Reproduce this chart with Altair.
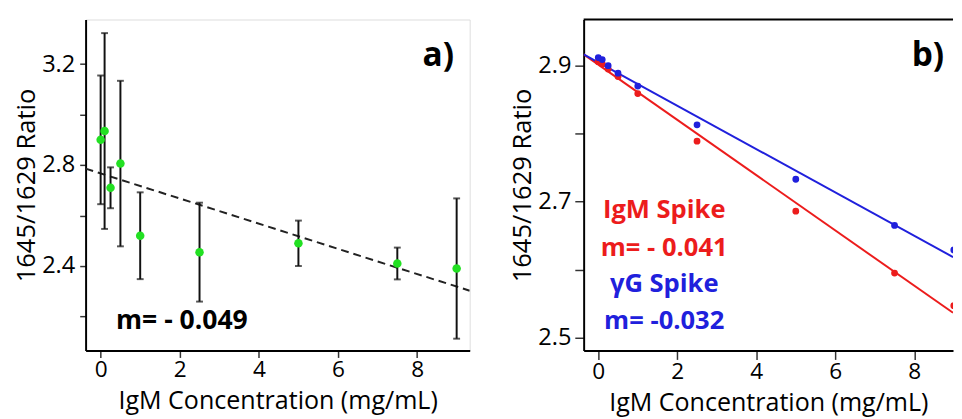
import json
import altair as alt
import pandas as pd

# ---- data ----
conc = [0, 0.1, 0.25, 0.5, 1, 2.5, 5, 7.5, 9]

# panel a) : mean ratio and error (+/-)
ratio_a = [2.90, 2.935, 2.71, 2.806, 2.52, 2.455, 2.49, 2.41, 2.39]
err_a = [0.255, 0.388, 0.081, 0.328, 0.172, 0.196, 0.09, 0.063, 0.278]

# panel b) : two spike series
ratio_igm = [2.906, 2.903, 2.895, 2.884, 2.859, 2.789, 2.686, 2.595, 2.547]
ratio_igg = [2.912, 2.909, 2.900, 2.889, 2.870, 2.813, 2.733, 2.665, 2.629]

series_names = ["IgM Spike", "γG Spike"]

x_ticks = [0, 2, 4, 6, 8]
y_ticks_a = [2.2, 2.4, 2.6, 2.8, 3.0, 3.2]
y_labels_a = ["2.4", "2.8", "3.2"]
y_ticks_b = [2.5, 2.6, 2.7, 2.8, 2.9]
y_labels_b = ["2.5", "2.7", "2.9"]

x_domain_a = [-0.38, 9.33]
y_domain_a = [2.065, 3.377]
x_domain_b = [-0.37, 8.98]
y_domain_b = [2.481, 2.968]

label_a = "a)"
label_b = "b)"
slope_text_a = "m= - 0.049"
slope_texts_b = ["m= - 0.041", "m= -0.032"]

# ---- styling ----
FONT = "Open Sans"
GREEN = "#22e022"
RED = "#ec1c1c"
BLUE = "#2020dc"
W_A, W_B, H = 391, 376, 337

df_a = pd.DataFrame({"x": conc, "y": ratio_a, "e": err_a})
df_b = pd.concat([
    pd.DataFrame({"x": conc, "y": ratio_igm, "s": series_names[0]}),
    pd.DataFrame({"x": conc, "y": ratio_igg, "s": series_names[1]}),
], ignore_index=True)


def label_expr(labels):
    return (f"indexof({json.dumps(labels)}, format(datum.value, '.1f')) >= 0 "
            f"? format(datum.value, '.1f') : ''")


def x_axis(tick_size):
    return alt.Axis(values=x_ticks, title="IgM Concentration (mg/mL)", grid=False,
                    tickSize=tick_size, tickColor="#333", tickWidth=1.5,
                    domain=True, domainColor="black", domainWidth=2,
                    labelFont=FONT, titleFont=FONT,
                    labelFontSize=23, titleFontSize=25.5, labelPadding=1,
                    titlePadding=8, labelFlush=False,
                    labelFontWeight=400, titleFontWeight=400)


def y_axis(ticks, labels, tick_size, pad):
    return alt.Axis(values=ticks, labelExpr=label_expr(labels), title="1645/1629 Ratio",
                    grid=False, tickSize=tick_size, tickColor="#333", tickWidth=1.5,
                    domain=True, domainColor="black", domainWidth=2,
                    labelFont=FONT, titleFont=FONT,
                    labelFontSize=24, titleFontSize=26, labelPadding=pad,
                    titlePadding=2, labelFlush=False,
                    labelFontWeight=400, titleFontWeight=400)


# ---------------- panel a ----------------
xa = alt.X("x:Q", scale=alt.Scale(domain=x_domain_a, nice=False, zero=False), axis=x_axis(7))
ya = alt.Y("y:Q", scale=alt.Scale(domain=y_domain_a, nice=False, zero=False),
           axis=y_axis(y_ticks_a, y_labels_a, 6, 5))

base_a = alt.Chart(df_a).transform_calculate(
    lo="datum.y - datum.e", hi="datum.y + datum.e")

fit_a = alt.Chart(df_a).transform_regression(
    "x", "y", extent=x_domain_a
).mark_line(color="#222", strokeWidth=2, strokeDash=[8, 5], clip=True).encode(x=xa, y=ya)

bars_a = base_a.mark_rule(color="#111", strokeWidth=2).encode(
    x=xa, y=alt.Y("lo:Q", scale=alt.Scale(domain=y_domain_a, nice=False, zero=False)), y2="hi:Q")
cap_lo = base_a.mark_tick(color="#111", orient="horizontal", size=7, thickness=2).encode(
    x=xa, y=alt.Y("lo:Q"))
cap_hi = base_a.mark_tick(color="#111", orient="horizontal", size=7, thickness=2).encode(
    x=xa, y=alt.Y("hi:Q"))
pts_a = alt.Chart(df_a).mark_circle(color=GREEN, size=75, opacity=1).encode(x=xa, y=ya)

txt_a = alt.Chart(alt.Data(values=[{"t": label_a}])).mark_text(
    font=FONT, fontSize=34, fontWeight="bold", align="right", baseline="alphabetic", color="black"
).encode(text="t:N", x=alt.value(375), y=alt.value(47))
m_a = alt.Chart(alt.Data(values=[{"t": slope_text_a}])).mark_text(
    font=FONT, fontSize=27, fontWeight="bold", align="left", baseline="alphabetic", color="black"
).encode(text="t:N", x=alt.value(31), y=alt.value(315))

panel_a = alt.layer(fit_a, bars_a, cap_lo, cap_hi, pts_a, txt_a, m_a).properties(
    width=W_A, height=H)

# ---------------- panel b ----------------
xb = alt.X("x:Q", scale=alt.Scale(domain=x_domain_b, nice=False, zero=False), axis=x_axis(9))
yb = alt.Y("y:Q", scale=alt.Scale(domain=y_domain_b, nice=False, zero=False),
           axis=y_axis(y_ticks_b, y_labels_b, 9, 4))
col_b = alt.Color("s:N", scale=alt.Scale(domain=series_names, range=[RED, BLUE]), legend=None)

fit_b = alt.Chart(df_b).transform_regression(
    "x", "y", groupby=["s"], extent=x_domain_b
).mark_line(strokeWidth=2, clip=True).encode(x=xb, y=yb, color=col_b, detail="s:N")
pts_b = alt.Chart(df_b).mark_circle(size=48, opacity=1, clip=True).encode(
    x=xb, y=yb, color=col_b, order=alt.Order("s:N"))

top_border = alt.Chart(alt.Data(values=[{}])).mark_rule(color="black", strokeWidth=2).encode(
    x=alt.value(0), x2=alt.value(W_B), y=alt.value(0))

txt_b = alt.Chart(alt.Data(values=[{"t": label_b}])).mark_text(
    font=FONT, fontSize=34, fontWeight="bold", align="right", baseline="alphabetic", color="black"
).encode(text="t:N", x=alt.value(367), y=alt.value(47))

ann_rows = [
    {"t": series_names[0], "c": RED},
    {"t": slope_texts_b[0], "c": RED},
    {"t": series_names[1], "c": BLUE},
    {"t": slope_texts_b[1], "c": BLUE},
]
ann_y = [202, 241, 277, 315]
ann_layers = [
    alt.Chart(alt.Data(values=[r])).mark_text(
        font=FONT, fontSize=26, fontWeight="bold", align="center", baseline="alphabetic",
        color=r["c"]).encode(text="t:N", x=alt.value(82), y=alt.value(yy))
    for r, yy in zip(ann_rows, ann_y)
]

panel_b = alt.layer(fit_b, pts_b, top_border, txt_b, *ann_layers).properties(
    width=W_B, height=H, view=alt.ViewBackground(strokeOpacity=0))

chart = alt.hconcat(panel_a, panel_b, spacing=40).properties(
    padding={"left": 5, "top": 7, "right": 0, "bottom": 0}
).configure_view(stroke="black", strokeWidth=2).configure_axis(
    labelColor="#111", titleColor="#111"
).configure(background="white")

chart.save("out.html", embed_options={"renderer": "svg", "actions": False})
